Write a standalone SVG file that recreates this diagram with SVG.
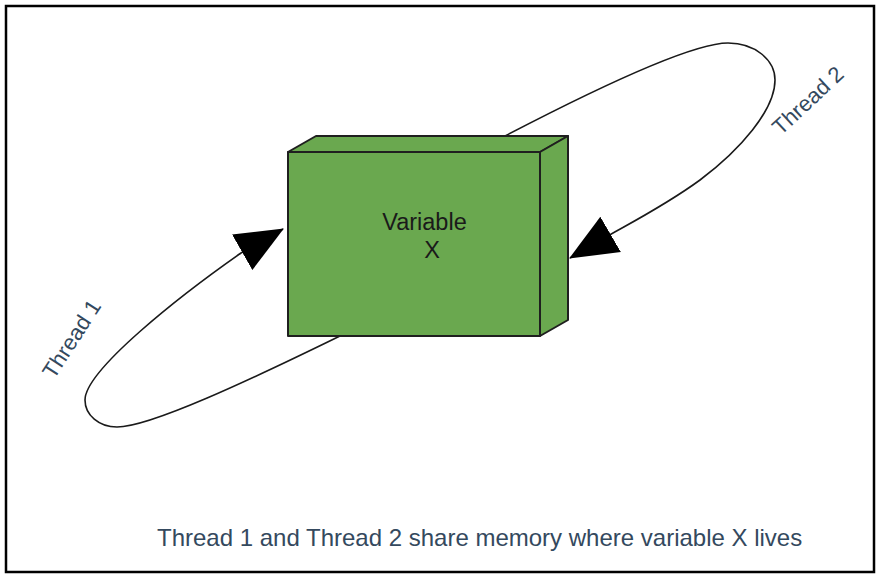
<svg xmlns="http://www.w3.org/2000/svg" width="878" height="575" viewBox="0 0 878 575">
<style>
.conn{fill:none;stroke:#1a1a1a;stroke-width:1.6;marker-end:url(#ah)}
.face{fill:#6aa84f;stroke:#1f1f1f;stroke-width:2;stroke-linejoin:round}
.lbl{font-family:"Liberation Sans",Arial,sans-serif;fill:#34495e}
.inner{font-family:"Liberation Sans",Arial,sans-serif;fill:#1a1a1a;font-size:23.5px;text-anchor:middle}
</style>
<defs>
<marker id="ah" markerUnits="userSpaceOnUse" markerWidth="48" markerHeight="42" viewBox="0 0 47 40" refX="46" refY="20" orient="auto">
<path d="M0,0 L47,20 L0,40 Z" fill="#000"/>
</marker>
</defs>
<rect x="6" y="6" width="868" height="566" fill="#fff" stroke="#000" stroke-width="2.5"/>
<g id="connectors">
<path id="thread1" class="conn" d="M340,336 C250,380 150,427 117,427 C99,427 85,415 85,400 C85,370 181,295 241,253 L283,229"/>
<path id="thread2" class="conn" d="M505,136 C624,74 699,43 728,43 C755,43 775,60 775,80 C775,110 740,150 700,180 C670,202 640,218 613,233 L570,258"/>
</g>
<g id="variable-x">
<polygon class="face" points="288,152 316,136 568,136 540,152"/>
<polygon class="face" points="540,152 568,136 568,320 540,336"/>
<rect class="face" x="288" y="152" width="252" height="184"/>
<text class="inner" x="424.5" y="230">Variable</text>
<text class="inner" x="432" y="258">X</text>
</g>
<g id="label-thread1">
<text class="lbl" font-size="22" text-anchor="middle" transform="translate(78,343) rotate(-57)">Thread 1</text>
</g>
<g id="label-thread2">
<text class="lbl" font-size="22" text-anchor="middle" transform="translate(813,106) rotate(-43)">Thread 2</text>
</g>
<g id="caption">
<text class="lbl" font-size="24" x="157" y="546">Thread 1 and Thread 2 share memory where variable X lives</text>
</g>
</svg>
